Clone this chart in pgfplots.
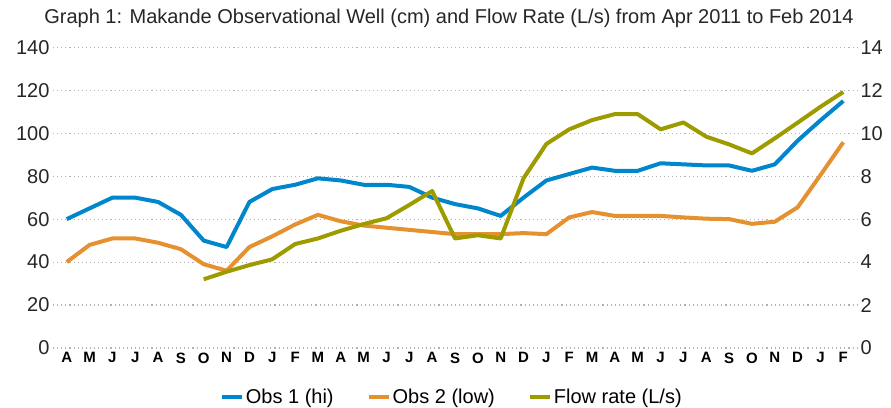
\documentclass[border=0pt]{standalone}
\usepackage{pgfplots}
\pgfplotsset{compat=1.18}
\usepackage{fontspec}
\setmainfont{Liberation Sans}
\definecolor{cblue}{RGB}{0,134,204}
\definecolor{corange}{RGB}{230,145,48}
\definecolor{colive}{RGB}{158,155,0}
\begin{document}
\begin{tikzpicture}
\pgfplotsset{
  base/.style={width=804pt, height=300.7pt, scale only axis,
    xmin=-0.6, xmax=34.6, ymin=0, at={(0,0)}, anchor=south west,
    axis line style={draw=none}, tick style={draw=none},
    /pgf/number format/assume math mode=true,
    yticklabel style={font=\fontsize{20}{22}\selectfont, color=black!85},
    every axis plot/.append style={line width=4pt, line join=round, no markers},
  }
}
\begin{axis}[base, name=ax, ymax=140, ytick={0,20,...,140},
  ymajorgrids, grid style={gray!60, line width=1.1pt, dash pattern=on 1.1pt off 3pt},
  xtick={0,...,34},
  xticklabels={A,M,J,J,A,S,O,N,D,J,F,M,A,M,J,J,A,S,O,N,D,J,F,M,A,M,J,J,A,S,O,N,D,J,F},
  xticklabel style={font=\bfseries\fontsize{15}{16}\selectfont, yshift=-1pt},
  legend style={at={(0.496,-0.163)}, anchor=center, legend columns=3, draw=none, fill=none,
    font=\fontsize{20}{22}\selectfont, /tikz/every even column/.append style={column sep=31pt}},
  legend image code/.code={\draw[#1, line width=4pt] (0pt,0pt) -- (20pt,0pt);},
]
\addplot[cblue] coordinates {(0,60)(1,65)(2,70)(3,70)(4,68)(5,62)(6,50)(7,47)(8,68)(9,74)(10,76)(11,79)(12,78)(13,76)(14,76)(15,75)(16,70)(17,67)(18,65)(19,61.5)(20,70)(21,78)(22,81)(23,84)(24,82.5)(25,82.5)(26,86)(27,85.5)(28,85)(29,85)(30,82.5)(31,85.5)(32,96.5)(33,106)(34,115)};
\addlegendentry{Obs 1 (hi)}
\addplot[corange] coordinates {(0,40)(1,48)(2,51)(3,51)(4,49)(5,46)(6,39)(7,36)(8,47)(9,52)(10,57.5)(11,62)(12,59)(13,57)(14,56)(15,55)(16,54)(17,53)(18,53)(19,53)(20,53.5)(21,53)(22,60.8)(23,63.3)(24,61.5)(25,61.5)(26,61.5)(27,60.8)(28,60.2)(29,60)(30,57.8)(31,58.8)(32,65.5)(33,80.5)(34,95.8)};
\addlegendentry{Obs 2 (low)}
\addlegendimage{colive}
\addlegendentry{Flow rate (L/s)}
\end{axis}
\begin{axis}[base, ymax=14, ytick={0,2,...,14}, hide x axis, yticklabel pos=right]
\addplot[colive] coordinates {(6,3.2)(7,3.55)(8,3.86)(9,4.13)(10,4.84)(11,5.1)(12,5.46)(13,5.77)(14,6.04)(15,6.66)(16,7.31)(17,5.1)(18,5.25)(19,5.1)(20,7.9)(21,9.5)(22,10.18)(23,10.61)(24,10.89)(25,10.89)(26,10.18)(27,10.5)(28,9.84)(29,9.48)(30,9.06)(31,9.76)(32,10.49)(33,11.23)(34,11.92)};
\end{axis}
\node[font=\fontsize{20}{22}\selectfont, text=black!85] at ([xshift=-6pt, yshift=29.3pt]ax.north) {Graph 1: Makande Observational Well (cm) and Flow Rate (L/s) from Apr 2011 to Feb 2014};
\pgfresetboundingbox
\path[use as bounding box] ([xshift=-53pt, yshift=-59pt]ax.south west) rectangle ([xshift=34pt, yshift=47.3pt]ax.north east);
\end{tikzpicture}
\end{document}
